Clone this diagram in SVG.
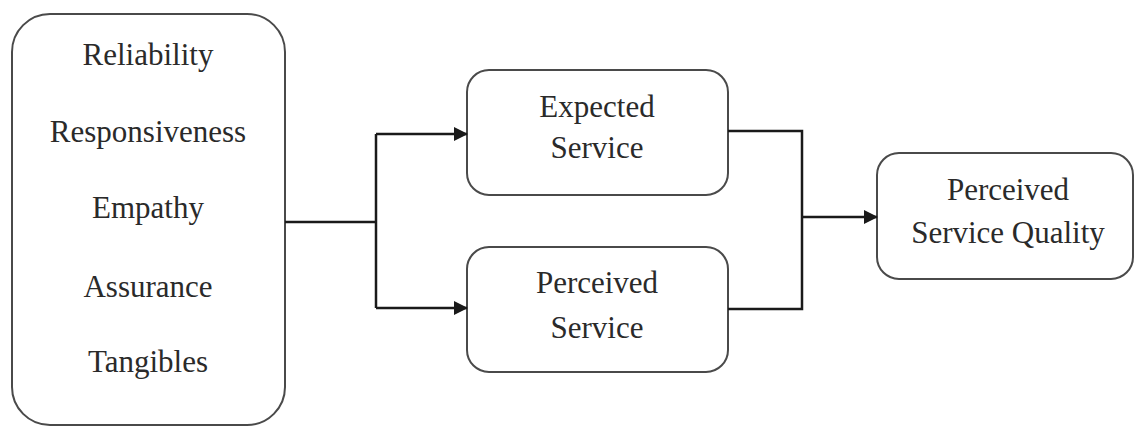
<svg xmlns="http://www.w3.org/2000/svg" width="1135" height="428" viewBox="0 0 1135 428">
<style>
.box{fill:#ffffff;stroke:#4a4a4a;stroke-width:2}
.t{font-family:'Liberation Serif','Times New Roman',serif;font-size:31px;fill:#2a2a2a;text-anchor:middle}
.c{fill:none;stroke:#1a1a1a;stroke-width:2.5}
</style>
<defs>
<marker id="ah" markerWidth="14" markerHeight="14" refX="13" refY="7" orient="auto" markerUnits="userSpaceOnUse">
<path d="M0,0 L14,7 L0,14 Z" fill="#1a1a1a"/>
</marker>
</defs>
<rect width="1135" height="428" fill="#ffffff"/>
<g id="dimensions">
<rect class="box" x="12" y="14" width="273" height="411" rx="38"/>
<text class="t" x="148" y="65">Reliability</text>
<text class="t" x="148" y="142">Responsiveness</text>
<text class="t" x="148" y="218">Empathy</text>
<text class="t" x="148" y="297">Assurance</text>
<text class="t" x="148" y="372">Tangibles</text>
</g>
<g id="expected">
<rect class="box" x="467" y="70" width="261" height="125" rx="22"/>
<text class="t" x="597" y="117">Expected</text>
<text class="t" x="597" y="158">Service</text>
</g>
<g id="perceived">
<rect class="box" x="467" y="247" width="261" height="125" rx="22"/>
<text class="t" x="597" y="293">Perceived</text>
<text class="t" x="597" y="338">Service</text>
</g>
<g id="quality">
<rect class="box" x="877" y="153" width="256" height="126" rx="22"/>
<text class="t" x="1008" y="200">Perceived</text>
<text class="t" x="1008" y="243">Service Quality</text>
</g>
<g id="connectors">
<path class="c" d="M285,222 H376"/>
<path class="c" d="M376,134 V308"/>
<path class="c" d="M376,134 H467" marker-end="url(#ah)"/>
<path class="c" d="M376,308 H467" marker-end="url(#ah)"/>
<path class="c" d="M728,131 H802 V309 H728"/>
<path class="c" d="M802,217 H877" marker-end="url(#ah)"/>
</g>
</svg>
